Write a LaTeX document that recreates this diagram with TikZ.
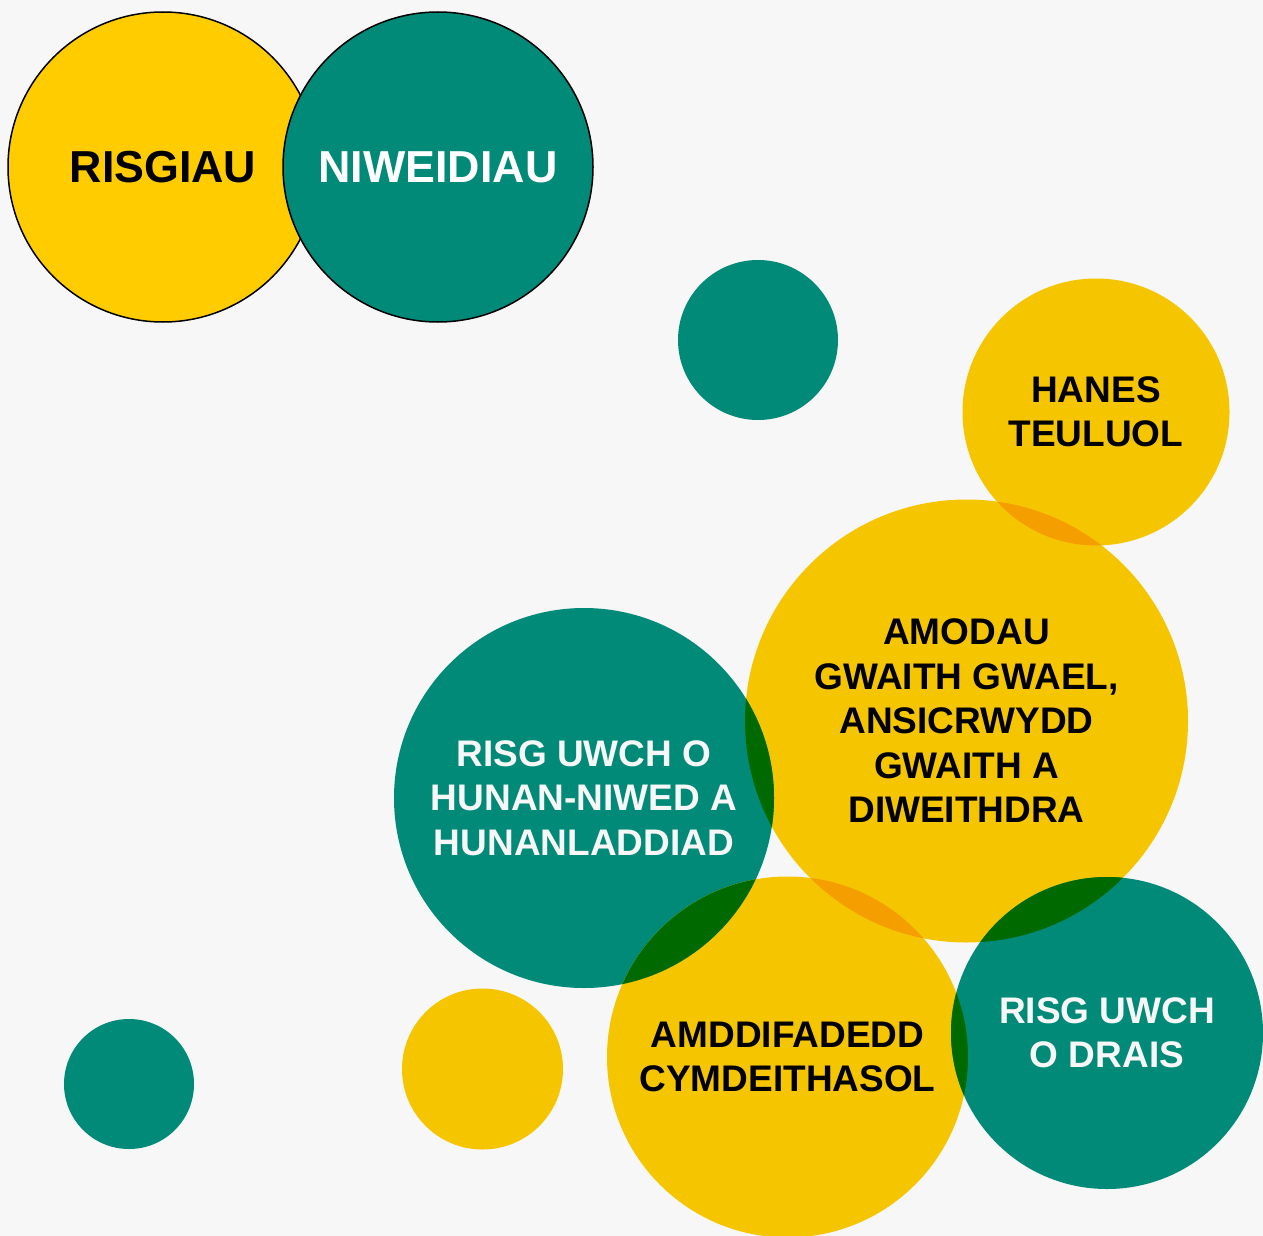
\documentclass[tikz,border=0pt]{standalone}
\usepackage{fontspec}
\setmainfont{Liberation Sans}
\usetikzlibrary{shapes,positioning}
\definecolor{bg}{HTML}{F7F7F7}
\definecolor{ylwtop}{HTML}{FFCC00}
\definecolor{ylw}{HTML}{F5C500}
\definecolor{tealg}{HTML}{008A77}
\definecolor{lensg}{HTML}{006A00}
\definecolor{lenso}{HTML}{F59E00}
\tikzset{
bubble/.style = {circle, inner sep=0pt, align=center, font=\bfseries\fontsize{18.5}{22.25}\selectfont},
rad/.style = {minimum size=#1pt},
yb/.style = {bubble, fill=ylw, text=black},
tb/.style = {bubble, fill=tealg, text=bg},
head/.style = {draw=black, line width=0.75pt, font=\bfseries\fontsize{22.4}{26}\selectfont}
}

\begin{document}
\begin{tikzpicture}[x=0.5pt, y=-0.5pt]
        \fill[bg] (0,0) rectangle (1263,1236);
        \useasboundingbox (0,0) rectangle (1263,1236);
        % legend
        \node [yb, head, fill=ylwtop, rad=155] (risg) at (163,167) {RISGIAU};
        \node [tb, head, text=white, rad=155] (niwed) at (438,167) {NIWEIDIAU};
        % bubbles
        \node [tb, rad=80] (dot1) at (758,340) {};
        \node [tb, rad=65] (dot2) at (129,1084) {};
        \node [yb, rad=80.5] (dot3) at (482.5,1069) {};
        \node [yb, rad=133.5] (hanes) at (1096,412) {HANES\\TEULUOL};
        \node [yb, rad=221.5] (amodau) at (966.5,721) {AMODAU\\GWAITH GWAEL,\\ANSICRWYDD\\GWAITH A\\DIWEITHDRA};
        \node [tb, rad=190] (hunan) at (584,798) {RISG UWCH O\\HUNAN-NIWED A\\HUNANLADDIAD};
        \node [yb, rad=180.5] (amddi) at (787.5,1057) {AMDDIFADEDD\\CYMDEITHASOL};
        \node [tb, rad=156] (drais) at (1107,1033) {RISG UWCH\\O DRAIS};
        % overlaps
        \begin{scope}
        \clip (hunan.center) circle [radius=190];
        \fill [lensg] (amodau.center) circle [radius=221.5];
        \fill [lensg] (amddi.center) circle [radius=180.5];
        \end{scope}
        \begin{scope}
        \clip (amodau.center) circle [radius=221.5];
        \fill [lenso] (hanes.center) circle [radius=133.5];
        \fill [lenso] (amddi.center) circle [radius=180.5];
        \fill [lensg] (drais.center) circle [radius=156];
        \end{scope}
        \begin{scope}
        \clip (amddi.center) circle [radius=180.5];
        \fill [lensg] (drais.center) circle [radius=156];
        \end{scope}
\end{tikzpicture}
\end{document}
